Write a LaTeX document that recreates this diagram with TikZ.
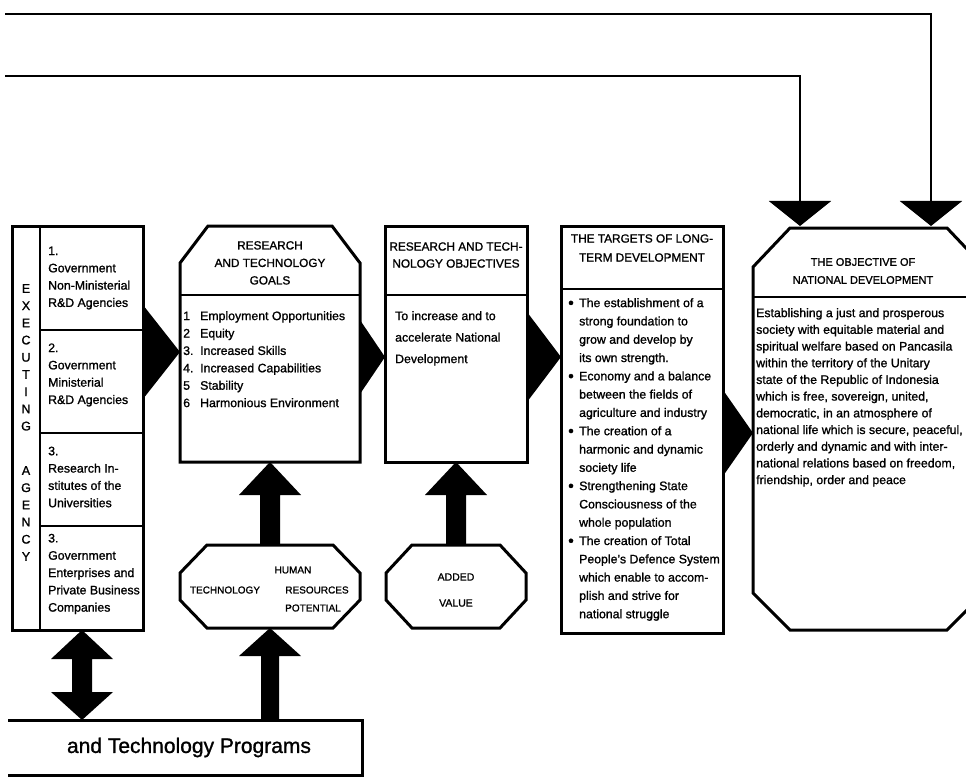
\documentclass[tikz,border=0pt]{standalone}
\usepackage{fontspec}
\setmainfont{Liberation Sans}[FakeBold=1.2]
\usetikzlibrary{calc,arrows.meta}

\newcommand{\dotmark}{\raisebox{-1.1pt}{\fontsize{16}{0}\selectfont\textbullet}}

\tikzset{
  box/.style={draw=none, inner sep=0pt, outer sep=0pt},
  frame/.style={line width=3pt, line join=miter},
  rule/.style={line width=2.2pt},
  solid arrow/.style={fill=black, draw=none},
  feed/.style={line width=2.5pt, -{Triangle[width=62pt,length=25pt]}},
  body/.style={font=\fontsize{12.3}{17.3}\selectfont, align=left, inner sep=0pt},
  head/.style={font=\fontsize{11.8}{17.5}\selectfont, align=center, inner sep=0pt},
  tag/.style={font=\fontsize{10}{12}\selectfont, inner sep=0pt},
}

\begin{document}
\begin{tikzpicture}[x=1pt,y=-1pt]
\useasboundingbox (0,0) rectangle (966,778);
\clip (0,0) rectangle (966,778);

% ---------- box frames (named, outlines drawn below) ----------
\node[box, minimum width=131pt, minimum height=404pt] (exec) at (77.5,428) {};
\node[box, minimum width=180pt, minimum height=236pt] (goals) at (270,344) {};
\node[box, minimum width=142pt, minimum height=236pt] (aims) at (456,344) {};
\node[box, minimum width=162pt, minimum height=407pt] (targets) at (642,429.5) {};
\node[box, minimum width=231pt, minimum height=402pt] (national) at (868.5,429) {};
\node[box, minimum width=180pt, minimum height=83pt] (potential) at (270,586.5) {};
\node[box, minimum width=140pt, minimum height=83pt] (added) at (456,586.5) {};
\node[box, minimum width=354pt, minimum height=55pt] (programs) at (185,747.5) {};

% executing agency column
\draw[frame] (exec.north west) rectangle (exec.south east);
\draw[rule] ($(exec.north west)+(28,0)$) -- ($(exec.south west)+(28,0)$);
\draw[rule] ($(exec.north west)+(28,104)$) -- ($(exec.north east)+(0,104)$);
\draw[rule] ($(exec.north west)+(28,207)$) -- ($(exec.north east)+(0,207)$);
\draw[rule] ($(exec.north west)+(28,300)$) -- ($(exec.north east)+(0,300)$);

% goals (top corners cut)
\draw[frame] ($(goals.north west)+(0,37)$) -- ($(goals.north west)+(28,0)$)
  -- ($(goals.north east)+(-28,0)$) -- ($(goals.north east)+(0,37)$)
  -- (goals.south east) -- (goals.south west) -- cycle;
\draw[rule] ($(goals.north west)+(0,69)$) -- ($(goals.north east)+(0,69)$);

% objectives
\draw[frame] (aims.north west) rectangle (aims.south east);
\draw[rule] ($(aims.north west)+(0,69)$) -- ($(aims.north east)+(0,69)$);

% targets
\draw[frame] (targets.north west) rectangle (targets.south east);
\draw[rule] ($(targets.north west)+(0,63)$) -- ($(targets.north east)+(0,63)$);

% national objective (octagon)
\draw[frame] ($(national.north west)+(0,39)$) -- ($(national.north west)+(37,0)$)
  -- ($(national.north east)+(-37,0)$) -- ($(national.north east)+(0,39)$)
  -- ($(national.south east)+(0,-37)$) -- ($(national.south east)+(-37,0)$)
  -- ($(national.south west)+(37,0)$) -- ($(national.south west)+(0,-37)$) -- cycle;
\draw[rule] ($(national.north west)+(0,69)$) -- ($(national.north east)+(0,69)$);

% potential octagon
\draw[frame] ($(potential.north west)+(0,28)$) -- ($(potential.north west)+(27,0)$)
  -- ($(potential.north east)+(-27,0)$) -- ($(potential.north east)+(0,28)$)
  -- ($(potential.south east)+(0,-28)$) -- ($(potential.south east)+(-27,0)$)
  -- ($(potential.south west)+(27,0)$) -- ($(potential.south west)+(0,-28)$) -- cycle;

% added value octagon
\draw[frame] ($(added.north west)+(0,28)$) -- ($(added.north west)+(26,0)$)
  -- ($(added.north east)+(-26,0)$) -- ($(added.north east)+(0,28)$)
  -- ($(added.south east)+(0,-28)$) -- ($(added.south east)+(-26,0)$)
  -- ($(added.south west)+(26,0)$) -- ($(added.south west)+(0,-28)$) -- cycle;

% programs box (open on the left)
\draw[frame] (programs.north west) -- (programs.north east)
  -- (programs.south east) -- (programs.south west);

% ---------- texts ----------
\node[head, font=\fontsize{12.5}{17.2}\selectfont, anchor=north] (execword) at ($(exec.north west)+(14,58)$) {E\\X\\E\\C\\U\\T\\I\\N\\G};
\node[head, font=\fontsize{12.5}{17.2}\selectfont, anchor=north] (agencyword) at ($(exec.north west)+(14,240)$) {A\\G\\E\\N\\C\\Y};

\node[body, anchor=west] (row1) at ($(exec.north west)+(36,52)$) {1.\\Government\\Non-Ministerial\\R\&D Agencies};
\node[body, anchor=west] (row2) at ($(exec.north west)+(36,149)$) {2.\\Government\\Ministerial\\R\&D Agencies};
\node[body, anchor=west] (row3) at ($(exec.north west)+(36,251)$) {3.\\Research In-\\stitutes of the\\Universities};
\node[body, anchor=west] (row4) at ($(exec.north west)+(36,348)$) {3.\\Government\\Enterprises and\\Private Business\\Companies};

\node[head, anchor=north] (goalshead) at ($(goals.north)+(0,15)$) {RESEARCH\\AND TECHNOLOGY\\GOALS};
\node[body, font=\fontsize{12.3}{17.4}\selectfont, anchor=north west] (goalslist) at ($(goals.north west)+(3,85)$)
  {\makebox[17pt][l]{1}Employment Opportunities\\
   \makebox[17pt][l]{2}Equity\\
   \makebox[17pt][l]{3.}Increased Skills\\
   \makebox[17pt][l]{4.}Increased Capabilities\\
   \makebox[17pt][l]{5}Stability\\
   \makebox[17pt][l]{6}Harmonious Environment};

\node[head, font=\fontsize{11.8}{17}\selectfont] (aimshead) at ($(aims.north)+(0,29)$) {RESEARCH AND TECH-\\NOLOGY OBJECTIVES};
\node[body, font=\fontsize{12.3}{21.5}\selectfont, anchor=north west] (aimstext) at ($(aims.north west)+(10,85)$)
  {To increase and to\\accelerate National\\Development};

\node[head, font=\fontsize{11.8}{19}\selectfont] (targetshead) at ($(targets.north)+(0,22)$) {THE TARGETS OF LONG-\\TERM DEVELOPMENT};
\node[body, font=\fontsize{12.3}{18.3}\selectfont, anchor=north west] (targetslist) at ($(targets.north west)+(7,72)$)
  {\makebox[11pt][l]{\dotmark}The establishment of a\\
   \hspace*{11pt}strong foundation to\\
   \hspace*{11pt}grow and develop by\\
   \hspace*{11pt}its own strength.\\
   \makebox[11pt][l]{\dotmark}Economy and a balance\\
   \hspace*{11pt}between the fields of\\
   \hspace*{11pt}agriculture and industry\\
   \makebox[11pt][l]{\dotmark}The creation of a\\
   \hspace*{11pt}harmonic and dynamic\\
   \hspace*{11pt}society life\\
   \makebox[11pt][l]{\dotmark}Strengthening State\\
   \hspace*{11pt}Consciousness of the\\
   \hspace*{11pt}whole population\\
   \makebox[11pt][l]{\dotmark}The creation of Total\\
   \hspace*{11pt}People's Defence System\\
   \hspace*{11pt}which enable to accom-\\
   \hspace*{11pt}plish and strive for\\
   \hspace*{11pt}national struggle};

\node[head, font=\fontsize{11}{18}\selectfont] (nationalhead) at ($(national.north)+(-5.5,43)$) {THE OBJECTIVE OF\\NATIONAL DEVELOPMENT};
\node[body, font=\fontsize{12.3}{16.7}\selectfont, anchor=north west] (nationaltext) at ($(national.north west)+(3,80)$)
  {Establishing a just and prosperous\\
   society with equitable material and\\
   spiritual welfare based on Pancasila\\
   within the territory of the Unitary\\
   state of the Republic of Indonesia\\
   which is free, sovereign, united,\\
   democratic, in an atmosphere of\\
   national life which is secure, peaceful,\\
   orderly and dynamic and with inter-\\
   national relations based on freedom,\\
   friendship, order and peace};

\node[tag] (human) at ($(potential.center)+(23,-16.5)$) {HUMAN};
\node[tag] (technology) at ($(potential.center)+(-45,3.5)$) {TECHNOLOGY};
\node[tag] (resources) at ($(potential.center)+(47,3.5)$) {RESOURCES};
\node[tag] (potword) at ($(potential.center)+(43,21.5)$) {POTENTIAL};
\node[tag, font=\fontsize{10.5}{26}\selectfont, align=center] (addedtext) at ($(added.center)+(0,3.5)$) {ADDED\\VALUE};

\node[inner sep=0pt, font=\fontsize{21}{25}\selectfont] (programstext) at ($(programs.center)+(4,0)$) {and Technology Programs};

% ---------- solid arrows ----------
\coordinate (t1) at ($(goals.west)+(0,8)$);
\fill[solid arrow] (t1) -- ($(t1 -| exec.east)+(0,-47)$) -- ($(t1 -| exec.east)+(0,47)$) -- cycle;
\coordinate (t2) at ($(aims.west)+(0,13)$);
\fill[solid arrow] (t2) -- ($(t2 -| goals.east)+(0,-37)$) -- ($(t2 -| goals.east)+(0,37)$) -- cycle;
\coordinate (t3) at ($(targets.west)+(0,-72.5)$);
\fill[solid arrow] (t3) -- ($(t3 -| aims.east)+(0,-45)$) -- ($(t3 -| aims.east)+(0,45)$) -- cycle;
\coordinate (t4) at ($(national.west)+(0,4)$);
\fill[solid arrow] (t4) -- ($(t4 -| targets.east)+(0,-43)$) -- ($(t4 -| targets.east)+(0,43)$) -- cycle;

% upward arrows into goals and objectives
\fill[solid arrow] (goals.south) -- ++(31,33) -- ++(-21,0) -- ($(potential.north)+(10,0)$)
  -- ($(potential.north)+(-10,0)$) -- ($(goals.south)+(-10,33)$) -- ++(-21,0) -- cycle;
\fill[solid arrow] (aims.south) -- ++(31,33) -- ++(-21,0) -- ($(added.north)+(10,0)$)
  -- ($(added.north)+(-10,0)$) -- ($(aims.south)+(-10,33)$) -- ++(-21,0) -- cycle;

% programs feeding the potential
\fill[solid arrow] (potential.south) -- ++(31,28) -- ++(-22,0) -- ($(programs.north -| potential.south)+(9,0)$)
  -- ($(programs.north -| potential.south)+(-9,0)$) -- ($(potential.south)+(-9,28)$) -- ++(-22,0) -- cycle;

% two-way arrow between agencies and programs
\coordinate (d1) at ($(exec.south)+(4.5,0)$);
\coordinate (d2) at (d1 |- programs.north);
\fill[solid arrow] (d1) -- ++(31,29) -- ++(-21,0) -- ($(d2)+(10,-28)$) -- ++(21,0) -- (d2)
  -- ++(-31,-28) -- ++(21,0) -- ($(d1)+(-10,29)$) -- ++(-21,0) -- cycle;

% feedback lines into the national objective
\coordinate (feedA) at (5,14);
\coordinate (feedB) at (5,76);
\draw[feed] (feedA) -| ($(national.north)+(62.5,-2)$);
\draw[feed] (feedB) -| ($(national.north)+(-68.5,-2)$);
\end{tikzpicture}
\end{document}
